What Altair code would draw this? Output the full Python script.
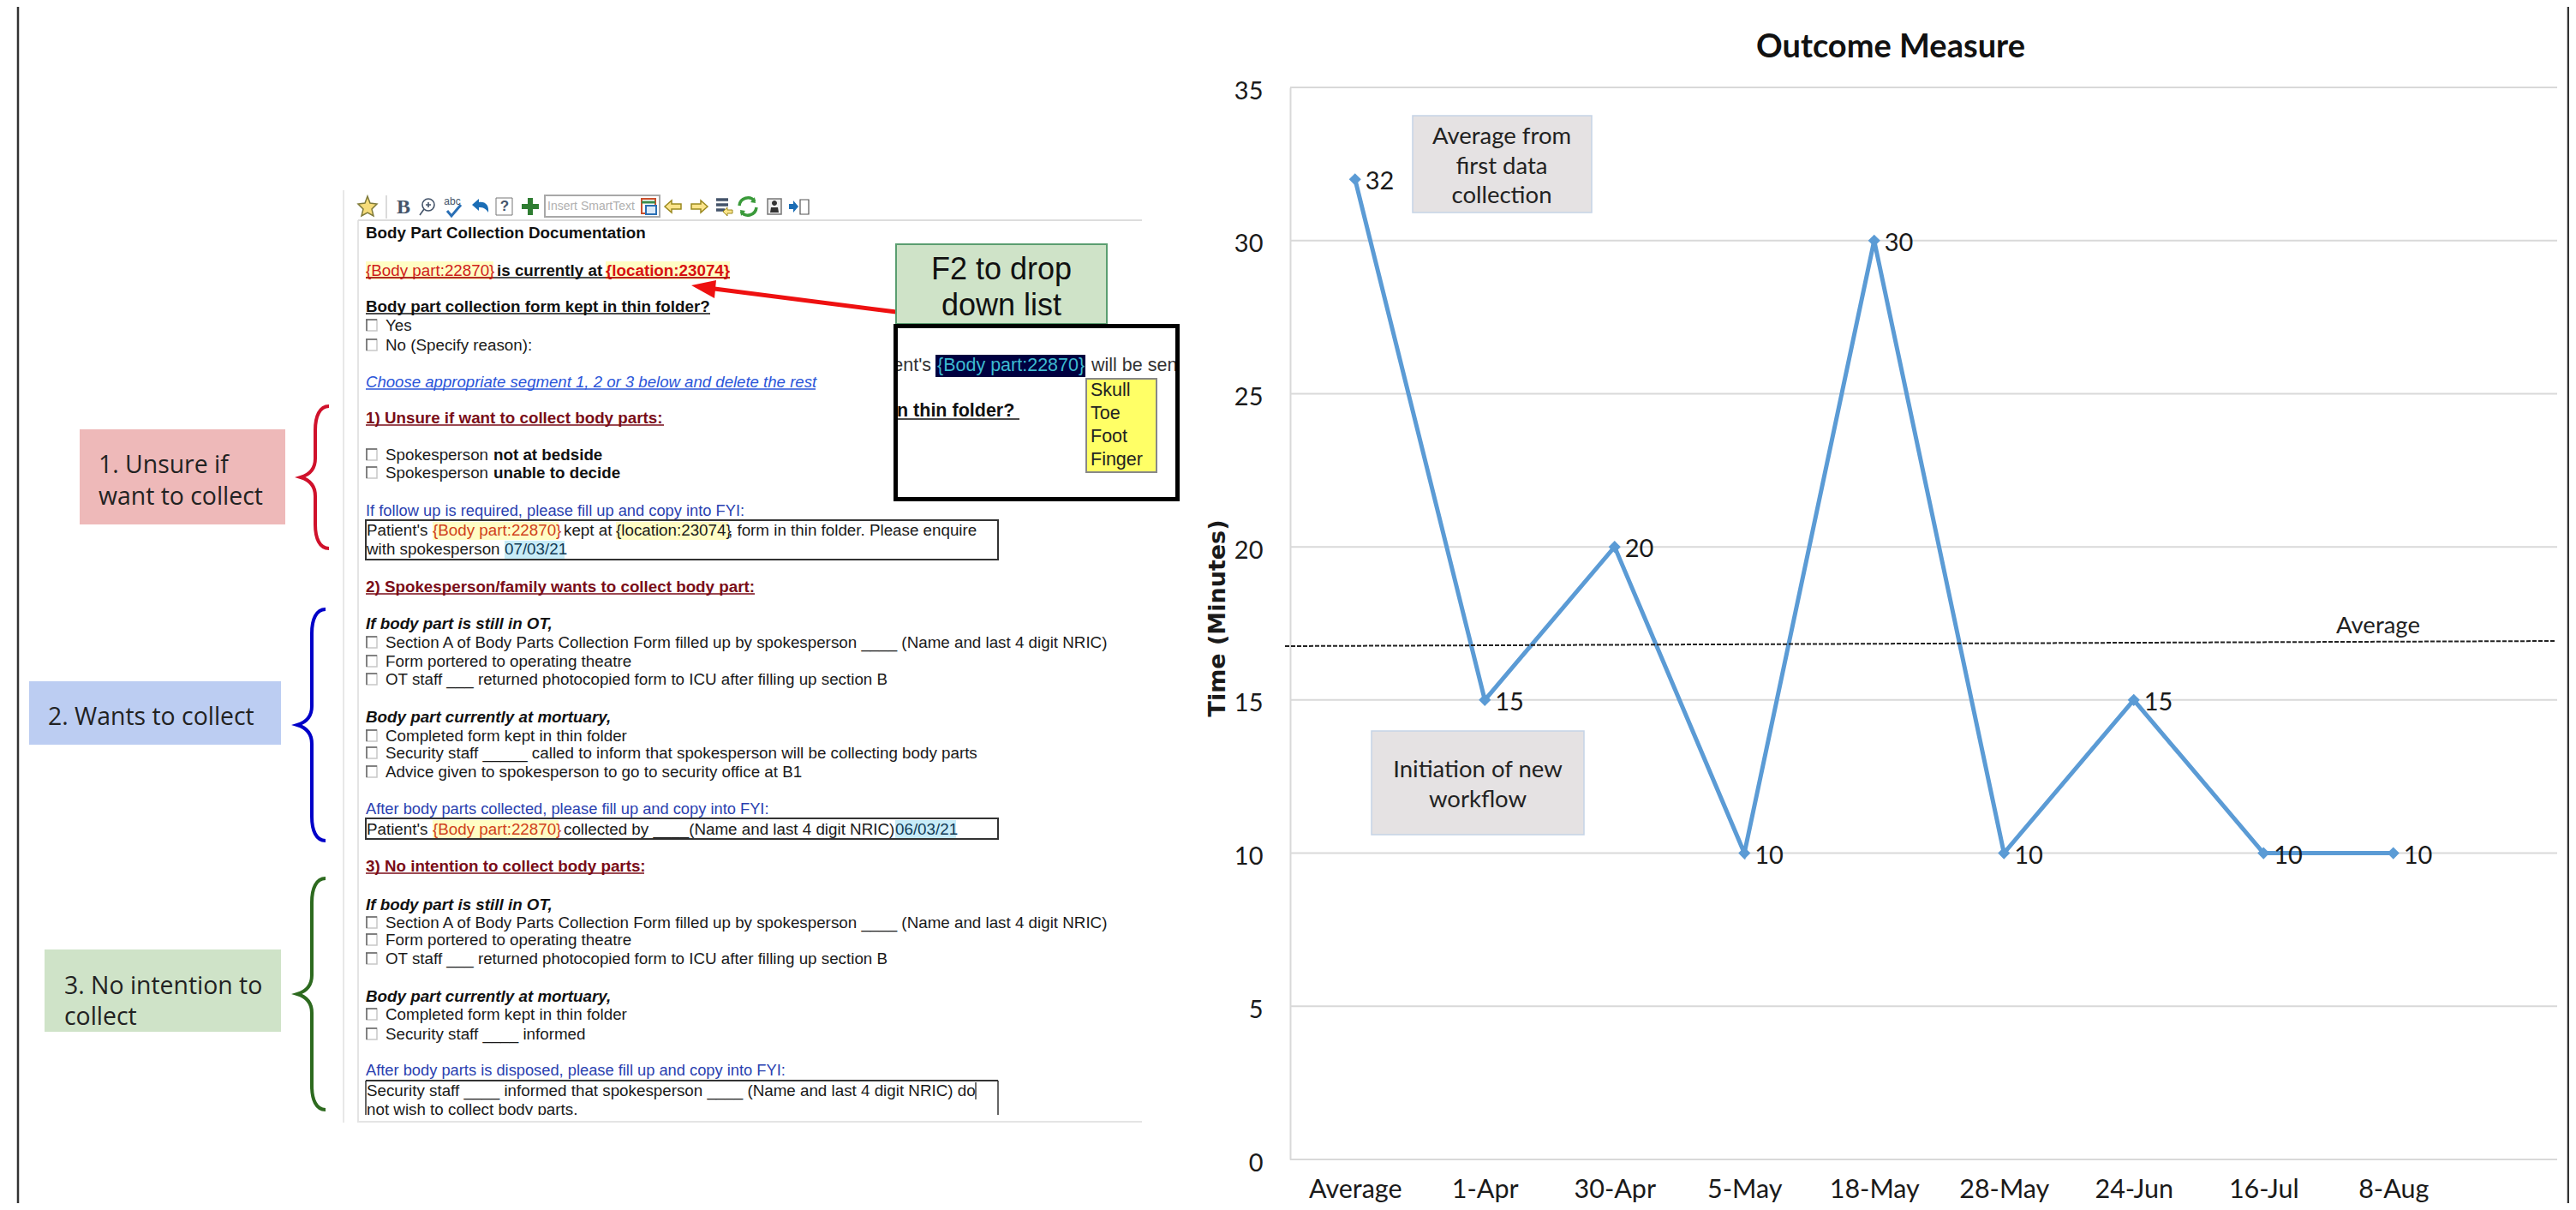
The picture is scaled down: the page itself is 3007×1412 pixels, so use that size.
import altair as alt
import pandas as pd

# ---------- data ----------
dates = ["Average", "1-Apr", "30-Apr", "5-May", "18-May", "28-May", "24-Jun", "16-Jul", "8-Aug"]
minutes = [32, 15, 20, 10, 30, 10, 15, 10, 10]
y_ticks = [0, 5, 10, 15, 20, 25, 30, 35]

df = pd.DataFrame({"date": dates, "minutes": minutes})
grid_df = pd.DataFrame({"v": y_ticks})

TOTAL_W, TOTAL_H = 2991, 1396
OX, OY = 1506, 102          # page position of the plot area's corner
PW, PH = 1479, 1251         # plot area
SANS = "Liberation Sans"
CAL = "Lato"
FS = 18.8
FB = 18.3                   # blue helper lines
layers = []
one = {"values": [{}]}


def t(text, x, y, size=FS, color="#1a1a1a", font=SANS, weight="normal", style="normal", align="left", angle=0):
    layers.append(alt.Chart(one).mark_text(
        font=font, fontSize=size, color=color, fontWeight=weight, fontStyle=style,
        align=align, baseline="middle", angle=angle
    ).encode(x=alt.value(x - OX), y=alt.value(y - OY), text=alt.value(text)))


def box(x1, y1, x2, y2, fill="white", stroke=None, sw=0):
    kw = {"fill": fill, "opacity": 1}
    if stroke:
        kw.update(stroke=stroke, strokeWidth=sw)
    layers.append(alt.Chart(one).mark_rect(**kw).encode(
        x=alt.value(x1 - OX), x2=alt.value(x2 - OX), y=alt.value(y1 - OY), y2=alt.value(y2 - OY)))


def seg(x1, y1, x2, y2, color="#1a1a1a", sw=1.5, dash=None):
    kw = {"color": color, "strokeWidth": sw}
    if dash:
        kw["strokeDash"] = dash
    layers.append(alt.Chart(one).mark_rule(**kw).encode(
        x=alt.value(x1 - OX), x2=alt.value(x2 - OX), y=alt.value(y1 - OY), y2=alt.value(y2 - OY)))


def icon(path, x, y, fill=None, stroke=None, sw=1.5):
    # size=4 makes one path unit one pixel
    kw = {"shape": path, "size": 4, "opacity": 1, "filled": fill is not None}
    if fill:
        kw["fill"] = fill
    if stroke:
        kw.update(stroke=stroke, strokeWidth=sw)
    layers.append(alt.Chart(one).mark_point(**kw).encode(x=alt.value(x - OX), y=alt.value(y - OY)))


def check(y):
    box(428, y - 7, 440, y + 6, fill="white", stroke="#c8c8c8", sw=1.5)
    seg(427, y - 7, 440, y - 7, "#666", 1.5)
    seg(428, y - 7, 428, y + 6, "#666", 1.5)


def brace(x, y, h, color):
    p = (f"M33,{-h} C22,{-h} 17,{-h+12} 17,{-h+28} L17,-22 C17,-10 10,-3 0,0 "
         f"C10,3 17,10 17,22 L17,{h-28} C17,{h-12} 22,{h} 33,{h}")
    icon(p, x, y, stroke=color, sw=4)


# ---------- scales and axes ----------
x_scale = alt.Scale(type="point", domain=dates, padding=0.5, range=[0, 1363.5])
y_scale = alt.Scale(domain=[0, 35], nice=False, zero=True)
x_axis = alt.Axis(
    orient="bottom", domain=False, ticks=False, grid=False, labelAngle=0,
    labelFont=CAL, labelFontSize=30.5, labelColor="#1a1a1a", labelBaseline="middle", labelPadding=35)
y_axis = alt.Axis(
    orient="left", values=y_ticks, grid=False, ticks=False, domain=True,
    domainColor="#d9d9d9", domainWidth=2, labelFont=CAL, labelFontSize=29, labelColor="#1a1a1a",
    labelPadding=32, labelOffset=4,
    title="Time (Minutes)", titleFont="DejaVu Sans", titleFontWeight="bold", titleFontSize=27,
    titleColor="#1a1a1a", titleAngle=270, titleX=-85, titleY=619, titleAlign="center", titleBaseline="middle")
x_enc = alt.X("date:N", sort=dates, title="", scale=x_scale, axis=x_axis)
y_enc = alt.Y("minutes:Q", title="Time (Minutes)", scale=y_scale, axis=y_axis)

grid = alt.Chart(grid_df).mark_rule(color="#d9d9d9", strokeWidth=2).encode(
    y=alt.Y("v:Q", title="Time (Minutes)", scale=y_scale, axis=y_axis), x=alt.value(0), x2=alt.value(PW))
layers.append(grid)

# ---------- outer frame ----------
seg(21, 8, 21, 1404, "#333333", 2.5)
seg(2998, 8, 2998, 1404, "#333333", 2.5)

# ---------- left side: coloured labels and braces ----------
box(93, 501, 333, 612, fill="#eeb9b9")
t("1. Unsure if", 115, 543, 28.4, font="Open Sans", color="#222")
t("want to collect", 115, 580, 28.4, font="Open Sans", color="#222")
box(34, 795, 328, 869, fill="#bccdf2")
t("2. Wants to collect", 56, 837, 28.4, font="Open Sans", color="#222")
box(52, 1108, 328, 1204, fill="#cfe3c8")
t("3. No intention to", 75, 1151, 28.4, font="Open Sans", color="#222")
t("collect", 75, 1187, 28.4, font="Open Sans", color="#222")
brace(351, 557, 83, "#d0112b")
brace(347, 846, 135, "#0000c8")
brace(347, 1160, 135, "#2d6a1f")

# ---------- left side: form frame ----------
seg(401, 222, 401, 1310, "#e8e8e8", 2)
seg(418, 257, 418, 1310, "#e4e4e4", 2)
seg(418, 257, 1333, 257, "#dddddd", 2)
seg(418, 1309, 1333, 1309, "#e4e4e4", 2)

# ---------- toolbar ----------
icon("M0,-12 L3,-4 L11,-3 L5,3 L7,11 L0,7 L-7,11 L-5,3 L-11,-3 L-3,-4 Z", 429, 241, fill="#f6dc7a", stroke="#7f7a3a", sw=1.5)
seg(451, 228, 451, 255, "#cfcfcf", 1.5)
t("B", 471, 242, 24, font="Liberation Serif", weight="bold", color="#44546a", align="center")
icon("M-2,-9 A7,7 0 1 1 -2,5 A7,7 0 1 1 -2,-9 Z M-7,3 L-12,10 M-2,-5 L-2,1 M-5,-2 L1,-2", 502, 241, stroke="#44546a", sw=1.6)
t("abc", 528, 235, 12, color="#44546a", align="center")
icon("M-8,1 L-3,7 L8,-6", 530, 245, stroke="#2a6fb5", sw=3)
icon("M-10,-2 L-2,-9 L-2,-5 C6,-6 10,-1 9,7 C6,2 3,1 -2,1 L-2,5 Z", 561, 241, fill="#1b6db5")
box(579, 231, 598, 251, fill="white", stroke="#777", sw=1)
t("?", 589, 241, 17, weight="bold", color="#44546a", align="center")
icon("M-3,-10 L3,-10 L3,-3 L10,-3 L10,3 L3,3 L3,10 L-3,10 L-3,3 L-10,3 L-10,-3 L-3,-3 Z", 619, 241, fill="#2f7d32")
box(636, 228, 770, 253, fill="white", stroke="#a8a8a8", sw=2)
t("Insert SmartText", 639, 241, 14, color="#b0b0b0")
box(749, 232, 765, 249, fill="white", stroke="#c94f2c", sw=2)
seg(749, 236, 765, 236, "#3c8c4c", 3)
box(754, 240, 766, 250, fill="#dbe9f7", stroke="#2a6fb5", sw=2)
icon("M-10,0 L-2,-7 L-2,-3 L9,-3 L9,3 L-2,3 L-2,7 Z", 786, 241, fill="#fbe48a", stroke="#9c8a20", sw=1.5)
icon("M10,0 L2,-7 L2,-3 L-9,-3 L-9,3 L2,3 L2,7 Z", 816, 241, fill="#fbe48a", stroke="#9c8a20", sw=1.5)
seg(836, 233, 850, 233, "#44546a", 3.5)
seg(836, 239, 850, 239, "#44546a", 3.5)
seg(836, 245, 846, 245, "#44546a", 3.5)
icon("M-5,0 L0,-5 L0,-2 L6,-2 L6,2 L0,2 L0,5 Z", 849, 247, fill="#fbe48a", stroke="#9c8a20", sw=1)
icon("M-10,-1 A10,10 0 0 1 8,-6 M10,1 A10,10 0 0 1 -8,6", 873, 241, stroke="#3a9a3a", sw=3.5)
icon("M8,-11 L9,-4 L3,-5 Z M-8,11 L-9,4 L-3,5 Z", 873, 241, fill="#3a9a3a")
box(896, 232, 912, 250, fill="#eeeeee", stroke="#777", sw=1.5)
icon("M0,-7 A3,3 0 1 1 0,-1 A3,3 0 1 1 0,-7 Z M-5,7 L-4,1 L4,1 L5,7 Z", 904, 241, fill="#333")
icon("M-10,-3 L-5,-3 L-5,-7 L1,0 L-5,7 L-5,3 L-10,3 Z", 931, 241, fill="#1b6db5")
box(934, 233, 944, 250, fill="white", stroke="#555", sw=1.2)

# ---------- form text ----------
DR = "#7a0d18"
BL = "#2b55d9"
B2 = "#2a3fb0"
t("Body Part Collection Documentation", 427, 272, weight="bold", color="#111")
box(427, 305, 576, 326, fill="#fffdc4")
box(707, 305, 852, 326, fill="#fffdc4")
t("{Body part:22870}", 427, 316, color="#d0201a")
t("is currently at", 580, 316, weight="bold", color="#111")
t("{location:23074}", 707, 316, weight="bold", color="#d81010")
seg(427, 324, 852, 324, "#1a1a1a", 1.5)
seg(427, 324, 576, 324, "#d0201a", 1.5)
seg(707, 324, 852, 324, "#d81010", 1.5)
t("Body part collection form kept in thin folder?", 427, 358, weight="bold", color="#111")
seg(427, 366, 829, 366, "#111", 1.5)
check(380)
t("Yes", 450, 380)
check(403)
t("No (Specify reason):", 450, 403)
t("Choose appropriate segment 1, 2 or 3 below and delete the rest", 427, 446, 18.6, style="italic", color=BL)
seg(427, 454, 952, 454, BL, 1.5)
t("1) Unsure if want to collect body parts:", 427, 488, weight="bold", color=DR)
seg(427, 496, 775, 496, DR, 1.5)
check(531)
t("Spokesperson", 450, 531)
t("not at bedside", 576, 531, weight="bold", color="#111")
check(552)
t("Spokesperson", 450, 552)
t("unable to decide", 576, 552, weight="bold", color="#111")
t("If follow up is required, please fill up and copy into FYI:", 427, 597, FB, color=B2)
box(427, 607, 1165, 653, fill="white", stroke="#333", sw=2)
box(505, 609, 652, 630, fill="#fffdc4")
box(719, 609, 850, 630, fill="#fffdc4")
box(589, 631, 659, 652, fill="#c8ecf8")
t("Patient's", 428, 619)
t("{Body part:22870}", 505, 619, color="#d0401a")
t("kept at", 658, 619)
t("{location:23074}", 719, 619)
t(", form in thin folder. Please enquire", 850, 619)
t("with spokesperson", 428, 641)
t("07/03/21", 589, 641, color="#123a55")

t("2) Spokesperson/family wants to collect body part:", 427, 685, weight="bold", color=DR)
seg(427, 693, 881, 693, DR, 1.5)
t("If body part is still in OT,", 427, 728, weight="bold", style="italic", color="#111")
check(750)
t("Section A of Body Parts Collection Form filled up by spokesperson ____ (Name and last 4 digit NRIC)", 450, 750)
check(772)
t("Form portered to operating theatre", 450, 772)
check(793)
t("OT staff ___ returned photocopied form to ICU after filling up section B", 450, 793)
t("Body part currently at mortuary,", 427, 837, weight="bold", style="italic", color="#111")
check(859)
t("Completed form kept in thin folder", 450, 859)
check(879)
t("Security staff _____ called to inform that spokesperson will be collecting body parts", 450, 879)
check(901)
t("Advice given to spokesperson to go to security office at B1", 450, 901)
t("After body parts collected, please fill up and copy into FYI:", 427, 945, FB, color=B2)
box(427, 955, 1165, 979, fill="white", stroke="#333", sw=2)
box(505, 957, 652, 978, fill="#fffdc4")
box(1045, 957, 1116, 978, fill="#c8ecf8")
t("Patient's", 428, 968)
t("{Body part:22870}", 505, 968, color="#d0401a")
t("collected by ____(Name and last 4 digit NRIC)", 658, 968)
t("06/03/21", 1045, 968, color="#123a55")

t("3) No intention to collect body parts:", 427, 1011, weight="bold", color=DR)
seg(427, 1019, 752, 1019, DR, 1.5)
t("If body part is still in OT,", 427, 1056, weight="bold", style="italic", color="#111")
check(1077)
t("Section A of Body Parts Collection Form filled up by spokesperson ____ (Name and last 4 digit NRIC)", 450, 1077)
check(1097)
t("Form portered to operating theatre", 450, 1097)
check(1119)
t("OT staff ___ returned photocopied form to ICU after filling up section B", 450, 1119)
t("Body part currently at mortuary,", 427, 1163, weight="bold", style="italic", color="#111")
check(1184)
t("Completed form kept in thin folder", 450, 1184)
check(1207)
t("Security staff ____ informed", 450, 1207)
t("After body parts is disposed, please fill up and copy into FYI:", 427, 1250, FB, color=B2)
seg(427, 1261, 1165, 1261, "#333", 2)
seg(427, 1261, 427, 1301, "#333", 1.5)
seg(1165, 1261, 1165, 1301, "#333", 1.5)
t("Security staff ____ informed that spokesperson ____ (Name and last 4 digit NRIC) do", 428, 1273)
seg(1139, 1263, 1139, 1283, "#111", 1.2)
t("not wish to collect body parts.", 428, 1295)
box(423, 1301, 700, 1308, fill="white")

# ---------- callout ----------
seg(1046, 364, 834, 337, "#ee1111", 5)
icon("M0,0 L29,-6 L27,15 Z", 807, 333, fill="#ee1111")
box(1046, 285, 1292, 378, fill="#cfe3c8", stroke="#5a9e70", sw=2)
t("F2 to drop", 1169, 315, 36, align="center", color="#111")
t("down list", 1169, 357, 36, align="center", color="#111")
box(1092, 414, 1267, 440, fill="#000040")
t("ent's", 1087, 427, 21.5, align="right", color="#333")
t("{Body part:22870}", 1094, 427, 21.5, color="#3dbbd0")
t("will be sen", 1274, 427, 21.5, color="#333")
t("n thin folder?", 1047, 480, 21.5, weight="bold", color="#111")
seg(1047, 489, 1190, 489, "#111", 1.5)
box(1268, 442, 1350, 551, fill="#ffff66", stroke="#888", sw=2)
t("Skull", 1273, 456, 21.5, color="#222")
t("Toe", 1273, 483, 21.5, color="#222")
t("Foot", 1273, 510, 21.5, color="#222")
t("Finger", 1273, 537, 21.5, color="#222")
box(1012, 405, 1043, 450, fill="white")
box(1379, 405, 1400, 450, fill="white")
box(1045.5, 380.5, 1374.5, 582.5, fill="transparent", stroke="#000", sw=5)

# ---------- right side: text boxes behind the line ----------
t("Outcome Measure", 2207, 56, 38, font=CAL, weight="bold", align="center", color="#111")
box(1649, 135, 1858, 248, fill="#e5e2e3", stroke="#c5d3e6", sw=1.5)
t("Average from", 1753, 160, 27.5, font=CAL, align="center", color="#222")
t("first data", 1753, 195, 27.5, font=CAL, align="center", color="#222")
t("collection", 1753, 229, 27.5, font=CAL, align="center", color="#222")
box(1601, 853, 1849, 974, fill="#e5e2e3", stroke="#c5d3e6", sw=1.5)
t("Initiation of new", 1725, 899, 27.5, font=CAL, align="center", color="#222")
t("workflow", 1725, 934, 27.5, font=CAL, align="center", color="#222")

# ---------- the series ----------
line = alt.Chart(df).mark_line(color="#5b9bd5", strokeWidth=5).encode(x=x_enc, y=y_enc)
points = alt.Chart(df).mark_point(shape="diamond", filled=True, size=200, color="#5b9bd5", opacity=1).encode(
    x=x_enc, y=y_enc)
labels = alt.Chart(df).mark_text(align="left", baseline="middle", dx=12, dy=3, font=CAL, fontSize=29, color="#1a1a1a").encode(
    x=x_enc, y=y_enc, text=alt.Text("minutes:Q"))
layers.extend([line, points, labels])

seg(1500, 754, 2984, 748, "#222222", 2, dash=[5, 2])
t("Average", 2776, 731, 27.5, font=CAL, align="center", color="#222")

chart = alt.layer(*layers).properties(
    width=PW, height=PH, background="white",
    padding={"left": OX - 8, "top": OY - 8, "right": TOTAL_W - (OX - 8) - PW, "bottom": TOTAL_H - (OY - 8) - PH},
    autosize=alt.AutoSizeParams(type="none")
).configure_view(stroke=None)

chart.save("out.html", embed_options={"renderer": "svg", "actions": False})
